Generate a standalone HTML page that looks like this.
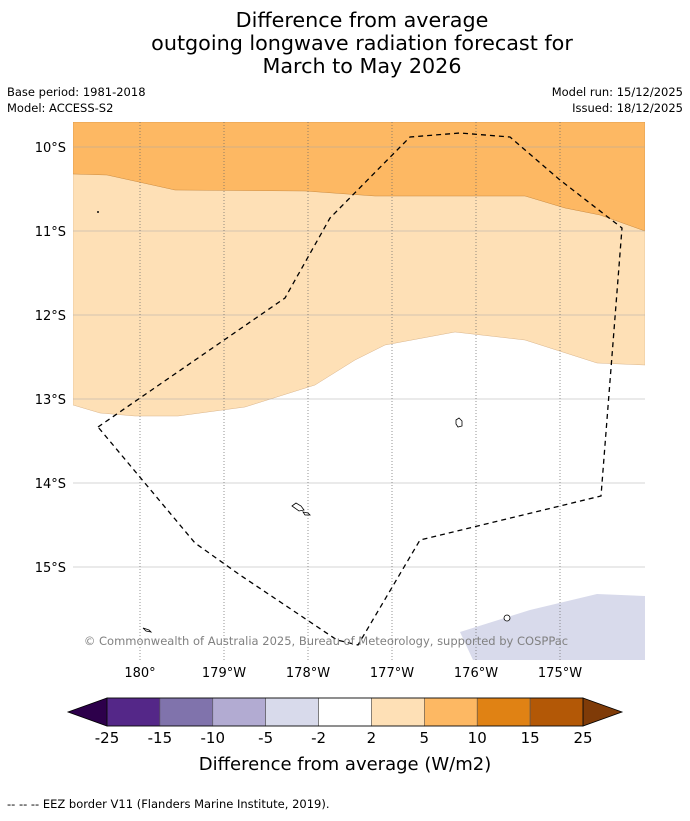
<!DOCTYPE html>
<html><head><meta charset="utf-8"><style>
body{margin:0;background:#fff;width:690px;height:816px;overflow:hidden;font-family:"Liberation Sans","DejaVu Sans",sans-serif;}
</style></head><body>
<svg width="690" height="816" xmlns="http://www.w3.org/2000/svg" font-family="DejaVu Sans, Liberation Sans, sans-serif">
<g font-size="20.7" text-anchor="middle" fill="#000">
<text x="362" y="27">Difference from average</text>
<text x="362" y="50">outgoing longwave radiation forecast for</text>
<text x="362" y="73">March to May 2026</text>
</g>
<g font-size="11.5" fill="#000">
<text x="7" y="96">Base period: 1981-2018</text>
<text x="7" y="112">Model: ACCESS-S2</text>
<text x="683" y="96" text-anchor="end">Model run: 15/12/2025</text>
<text x="683" y="112" text-anchor="end">Issued: 18/12/2025</text>
</g>
<defs><clipPath id="mc"><rect x="73" y="122" width="572" height="538"/></clipPath></defs>
<g clip-path="url(#mc)">
<rect x="73" y="122" width="572" height="538" fill="#fff"/>
<polygon fill="#fee0b6" stroke="#d9b48a" stroke-width="0.5" points="73,122 645,122 645,365 597,363 525,340 455,332 385,345 355,360 315,385 245,407 178,416 135,416 100,413 73,405"/>
<polygon fill="#fdb863" stroke="#c98a40" stroke-width="0.5" points="73,122 645,122 645,231 600,215 565,208 525,196 375,196 305,191 175,190 107,175 73,174"/>
<polygon fill="#d8daeb" points="460,632 530,610 597,594 645,596 645,660 473,660"/>
<g id="grid"></g>
<polyline fill="none" stroke="#000" stroke-width="1.3" stroke-dasharray="5,4" points="98,427 285,298 330,218 410,137 460,133 510,137 560,180 622,228 601,496 420,540 358,645 337,640 240,575 195,543 98,427"/>
<g fill="#fff" stroke="#000" stroke-width="0.8">
<path d="M456,420 l3,-2 l3,3 l0,5 l-4,1 l-2,-3z"/>
<path d="M292,506 l4,-3 l5,3 l3,4 l-5,1z"/>
<path d="M303,512 l5,1 l2,2 l-5,0z"/>
<circle cx="507" cy="618" r="3"/>
<path d="M143,628 l6,2 l2,2 l-5,-1z"/>
<circle cx="98" cy="212" r="0.6"/>
</g>
<text x="326" y="645" text-anchor="middle" font-size="11.5" fill="#808080">© Commonwealth of Australia 2025, Bureau of Meteorology, supported by COSPPac</text>
</g>
<g id="axes"></g>
<g id="cbar"></g>
<text x="345" y="770" text-anchor="middle" font-size="18">Difference from average (W/m2)</text>
<text x="7" y="808" font-size="11.5">-- -- -- EEZ border V11 (Flanders Marine Institute, 2019).</text>
</svg>
<script>
const latTicks=[10,11,12,13,14,15];
const lonTicks=[180,179,178,177,176,175];
const lonLabels=["180°","179°W","178°W","177°W","176°W","175°W"];
const cbLevels=["-25","-15","-10","-5","-2","2","5","10","15","25"];
const cbColors=["#542788","#8073ac","#b2abd2","#d8daeb","#ffffff","#fee0b6","#fdb863","#e08214","#b35806"];
const extColors=["#2d004b","#7f3b08"];
const NS="http://www.w3.org/2000/svg";
function latY(l){return 147+(l-10)*84;}
function lonX(w){return 140+(180-w)*84;}
function mk(t,a,p){const e=document.createElementNS(NS,t);for(const k in a)e.setAttribute(k,a[k]);p.appendChild(e);return e;}
const grid=document.getElementById('grid'),axes=document.getElementById('axes');
latTicks.forEach(l=>{const y=latY(l);
const g=mk('line',{x1:73,x2:645,y1:y,y2:y,stroke:'#aaa','stroke-width':0.5},grid);


const t=mk('text',{x:66,y:y+5,'text-anchor':'end','font-size':13},axes);t.textContent=l+'°S';

});
lonTicks.forEach((w,i)=>{const x=lonX(w);
const g=mk('line',{x1:x,x2:x,y1:122,y2:660,stroke:'#666','stroke-width':0.7,'stroke-dasharray':'1,2'},grid);


const t=mk('text',{x:x,y:677,'text-anchor':'middle','font-size':13},axes);t.textContent=lonLabels[i];

});
const cb=document.getElementById('cbar');const x0=107,x1=583,y0=698,y1=726,w=(x1-x0)/cbColors.length;
const l=mk('polygon',{points:`${x0},${y0} 68,712 ${x0},${y1}`,fill:extColors[0],stroke:'#000','stroke-width':0.8},cb);


const r=mk('polygon',{points:`${x1},${y0} 622,712 ${x1},${y1}`,fill:extColors[1],stroke:'#000','stroke-width':0.8},cb);


cbColors.forEach((c,i)=>{const b=mk('rect',{x:x0+i*w,y:y0,width:w,height:y1-y0,fill:c,stroke:'#555','stroke-width':0.6},cb);

});
mk('rect',{x:x0,y:y0,width:x1-x0,height:y1-y0,fill:'none',stroke:'#000','stroke-width':0.8},cb);
cbLevels.forEach((s,i)=>{const t=mk('text',{x:x0+i*w,y:743,'text-anchor':'middle','font-size':15},cb);t.textContent=s;

});
</script>
</body></html>
